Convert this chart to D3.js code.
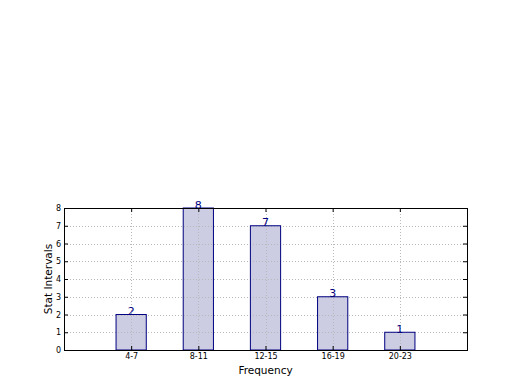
<!DOCTYPE html>
<html><head><meta charset="utf-8">
<script src="https://cdn.jsdelivr.net/npm/d3@7"></script>
<style>body{margin:0;background:#fff}svg{display:block}</style>
</head><body>
<svg id="c" width="520" height="390"></svg>
<script>
const categories = ["4-7","8-11","12-15","16-19","20-23"];
const values = [2,8,7,3,1];
const yTicks = [0,1,2,3,4,5,6,7,8];

const svg = d3.select("#c");
const L=64, R=467, T=208, B=350;
const x = d3.scaleLinear().domain([0,6]).range([L,R]);
const y = d3.scaleLinear().domain([0,8]).range([B,T]);
const font = "DejaVu Sans, sans-serif";
const bw = x(0.45)-x(0);

// bar fills
svg.selectAll(".bar").data(values).enter().append("rect")
  .attr("x",(d,i)=>x(i+1)-bw/2).attr("width",bw)
  .attr("y",d=>y(d)).attr("height",d=>B-y(d))
  .attr("fill","#ccccE3").attr("stroke","none");

// grid (drawn above bar fills)
const g = svg.append("g");
g.selectAll(".hg").data(yTicks).enter().append("line")
  .attr("x1",L).attr("x2",R).attr("y1",d=>Math.round(y(d))+0.5).attr("y2",d=>Math.round(y(d))+0.5)
  .attr("stroke","#b8b8b8").attr("stroke-width",1).attr("stroke-dasharray","1,2");
g.selectAll(".vg").data(categories).enter().append("line")
  .attr("x1",(d,i)=>Math.round(x(i+1))+0.5).attr("x2",(d,i)=>Math.round(x(i+1))+0.5)
  .attr("y1",T).attr("y2",B)
  .attr("stroke","#b8b8b8").attr("stroke-width",1).attr("stroke-dasharray","1,2");

// bar outlines
svg.selectAll(".barEdge").data(values).enter().append("rect")
  .attr("x",(d,i)=>x(i+1)-bw/2).attr("width",bw)
  .attr("y",d=>y(d)).attr("height",d=>B-y(d))
  .attr("fill","none").attr("stroke","#000080").attr("stroke-width",1);

// labels
svg.selectAll(".lbl").data(values).enter().append("text")
  .attr("x",(d,i)=>x(i+1)).attr("y",d=>y(d)+0.5)
  .attr("text-anchor","middle").attr("font-family",font).attr("font-size",11)
  .attr("fill","#000080").text(d=>d);

// frame
svg.append("rect").attr("x",L+0.5).attr("y",T+0.5).attr("width",R-L).attr("height",B-T)
  .attr("fill","none").attr("stroke","#000").attr("stroke-width",1);

// axes
const yAxis = d3.axisLeft(y).tickValues(yTicks).tickSizeInner(-4).tickSizeOuter(0).tickPadding(3);
const ya = svg.append("g").attr("transform",`translate(${L},0)`).call(yAxis);
const yAxisR = d3.axisRight(y).tickValues(yTicks).tickSizeInner(-4).tickSizeOuter(0).tickFormat("");
const yr = svg.append("g").attr("transform",`translate(${R},0)`).call(yAxisR);
const xAxis = d3.axisBottom(x).tickValues([1,2,3,4,5]).tickFormat((d)=>categories[d-1]).tickSizeInner(-4).tickSizeOuter(0).tickPadding(3);
const xa = svg.append("g").attr("transform",`translate(0,${B})`).call(xAxis);
const xAxisT = d3.axisTop(x).tickValues([1,2,3,4,5]).tickSizeInner(-4).tickSizeOuter(0).tickFormat("");
const xt = svg.append("g").attr("transform",`translate(0,${T})`).call(xAxisT);
[ya,yr,xa,xt].forEach(a=>{a.select(".domain").remove();a.selectAll("text").attr("font-family",font).attr("font-size",8).attr("fill","#000");a.selectAll("line").attr("stroke","#000");});

svg.append("text").attr("x",(L+R)/2).attr("y",374).attr("text-anchor","middle")
  .attr("font-family",font).attr("font-size",10.5).text("Frequency");
svg.append("text").attr("transform",`translate(52,${(T+B)/2}) rotate(-90)`).attr("text-anchor","middle")
  .attr("font-family",font).attr("font-size",10.5).text("Stat Intervals");
</script>
</body></html>
